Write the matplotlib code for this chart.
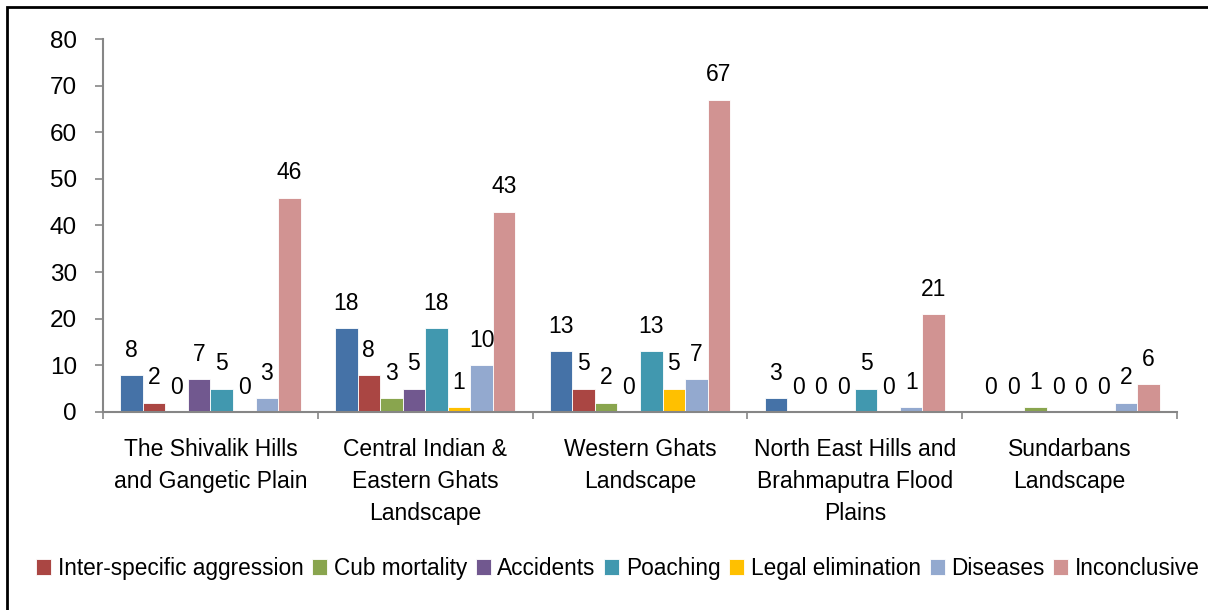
import matplotlib
matplotlib.use("Agg")
import matplotlib.pyplot as plt
from matplotlib.patches import Rectangle
import numpy as np

categories = ["The Shivalik Hills\nand Gangetic Plain",
              "Central Indian &\nEastern Ghats\nLandscape",
              "Western Ghats\nLandscape",
              "North East Hills and\nBrahmaputra Flood\nPlains",
              "Sundarbans\nLandscape"]

series_first = [8, 18, 13, 3, 0]          # first series (legend entry cut off)
inter_specific = [2, 8, 5, 0, 0]
cub_mortality = [0, 3, 2, 0, 1]
accidents = [7, 5, 0, 0, 0]
poaching = [5, 18, 13, 5, 0]
legal_elimination = [0, 1, 5, 0, 0]
diseases = [3, 10, 7, 1, 2]
inconclusive = [46, 43, 67, 21, 6]

series = [series_first, inter_specific, cub_mortality, accidents,
          poaching, legal_elimination, diseases, inconclusive]
labels = [None, "Inter-specific aggression", "Cub mortality", "Accidents",
          "Poaching", "Legal elimination", "Diseases", "Inconclusive"]
colors = ["#4572A7", "#AA4643", "#89A54E", "#71588F",
          "#4198AF", "#FFC000", "#93A9CF", "#D19392"]
y_ticks = [0, 10, 20, 30, 40, 50, 60, 70, 80]

plt.rcParams["font.family"] = ["Liberation Sans", "DejaVu Sans"]
fs_tick, fs_cat, fs_lab, fs_leg = 17.5, 16.5, 16.5, 16.3

W, H = 1208, 610
fig = plt.figure(figsize=(W / 100, H / 100), dpi=100)
ax = fig.add_axes([103 / W, 1 - 412 / H, (1177 - 103) / W, (412 - 39) / H])

n = len(series)
w = 0.105
x = np.arange(len(categories))
handles = []
for k, (vals, lab, col) in enumerate(zip(series, labels, colors)):
    pos = x + (k - (n - 1) / 2) * w
    bars = ax.bar(pos, vals, width=w, color=col, edgecolor="white", linewidth=0.6)
    if lab is not None:
        handles.append((bars, lab))
    for p, v in zip(pos, vals):
        ax.annotate(str(v), (p, v), xytext=(0, 9.5), textcoords="offset points",
                    ha="center", va="bottom", fontsize=fs_lab, color="black")

ax.set_xlim(-0.5, len(categories) - 0.5)
ax.set_ylim(0, 80)
ax.set_yticks(y_ticks)
ax.set_yticklabels([str(t) for t in y_ticks], fontsize=fs_tick)
ax.set_xticks(np.arange(len(categories) + 1) - 0.5)
ax.set_xticklabels([])
ax.set_xticks(x, minor=True)
ax.set_xticklabels(categories, minor=True, fontsize=fs_cat, linespacing=1.5)
ax.tick_params(axis="x", which="minor", length=0, pad=18.5)
ax.tick_params(axis="x", which="major", length=5, width=1.2, color="#868686", direction="out")
ax.tick_params(axis="y", length=5.8, width=1.2, color="#868686", direction="out", pad=13)
for s in ["top", "right"]:
    ax.spines[s].set_visible(False)
for s in ["left", "bottom"]:
    ax.spines[s].set_color("#868686")
    ax.spines[s].set_linewidth(1.5)

leg = fig.legend([h for h, _ in handles], [l for _, l in handles],
                 loc="center left", bbox_to_anchor=(36 / W, 1 - 568.5 / H),
                 ncol=7, frameon=False, fontsize=fs_leg, handlelength=0.66,
                 handleheight=0.66, handletextpad=0.3, columnspacing=0.38,
                 borderpad=0, borderaxespad=0)

# outer frame (left and top edges visible)
fig.patches.append(Rectangle((7 / W, -0.1), 1.2, 1 - 7 / H + 0.1,
                             transform=fig.transFigure, fill=False,
                             edgecolor="black", linewidth=2))

fig.savefig("out.png", dpi=100)
